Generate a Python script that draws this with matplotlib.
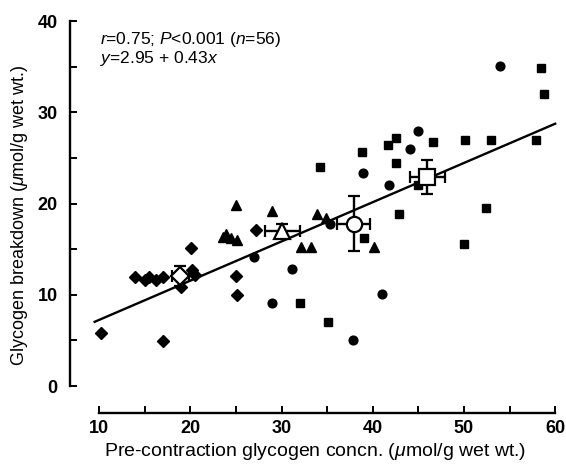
import matplotlib
matplotlib.use("Agg")
import matplotlib.pyplot as plt
import numpy as np

plt.rcParams['font.family'] = ['Liberation Sans', 'DejaVu Sans']
plt.rcParams['mathtext.fontset'] = 'custom'
plt.rcParams['mathtext.rm'] = 'Liberation Sans'
plt.rcParams['mathtext.it'] = 'Liberation Sans:italic'
plt.rcParams['mathtext.bf'] = 'Liberation Sans:bold'

# individual points (x = pre-contraction glycogen, y = breakdown)
diamond_x = [10.2, 17.0, 13.9, 15.0, 15.5, 16.2, 17.0, 19.0, 20.2, 20.5, 20.1, 25.0, 25.1, 27.2]
diamond_y = [5.8, 4.9, 12.0, 11.6, 12.0, 11.6, 12.0, 10.9, 12.7, 12.2, 15.1, 12.1, 10.0, 17.1]

triangle_x = [25.0, 23.9, 23.6, 24.4, 25.1, 29.0, 33.9, 34.9, 32.1, 33.2, 40.1]
triangle_y = [19.8, 16.7, 16.3, 16.2, 16.0, 19.2, 18.9, 18.4, 15.2, 15.2, 15.2]

circle_x = [27.0, 31.1, 29.0, 35.3, 37.8, 41.0, 38.9, 41.8, 44.1, 45.0, 53.9]
circle_y = [14.1, 12.8, 9.1, 17.8, 5.0, 10.1, 23.3, 22.0, 26.0, 27.9, 35.1]

square_x = [32.0, 35.1, 34.2, 39.0, 38.8, 41.7, 42.5, 42.6, 42.9, 45.0, 46.6,
            50.0, 50.1, 52.4, 53.0, 57.9, 58.5, 58.8]
square_y = [9.1, 7.0, 24.0, 16.2, 25.6, 26.4, 27.2, 24.4, 18.8, 22.0, 26.7,
            15.6, 27.0, 19.5, 27.0, 27.0, 34.9, 32.0]

# group means with SE
mean_markers = ['D', '^', 'o', 's']
mean_x = [18.9, 30.1, 37.9, 46.0]
mean_y = [12.1, 17.0, 17.8, 22.9]
mean_xerr = [0.9, 1.9, 1.85, 1.95]
mean_yerr = [1.1, 0.8, 3.0, 1.9]

# regression line
intercept = 2.95
slope = 0.43

fig = plt.figure(figsize=(5.66, 4.68), dpi=100)
ax = fig.add_axes([0.1237, 0.1167, 0.8652, 0.848])

ax.plot(diamond_x, diamond_y, 'D', color='black', markersize=6, zorder=3)
ax.plot(triangle_x, triangle_y, '^', color='black', markersize=6.5, zorder=3)
ax.plot(circle_x, circle_y, 'o', color='black', markersize=6.3, zorder=3)
ax.plot(square_x, square_y, 's', color='black', markersize=6, zorder=3)

lx = np.array([9.5, 60])
ax.plot(lx, intercept + slope * lx, color='black', linewidth=1.7, zorder=2)

sizes = {'D': 9.5, '^': 11, 'o': 11, 's': 11}
for m, x, y, xe, ye in zip(mean_markers, mean_x, mean_y, mean_xerr, mean_yerr):
    ax.errorbar(x, y, xerr=xe, yerr=ye, fmt=m, color='black', ecolor='black',
                markerfacecolor='white', markeredgecolor='black',
                markeredgewidth=1.6, markersize=sizes[m], elinewidth=1.7,
                capsize=4, capthick=1.7, zorder=4)

ax.text(10.1, 38.0, r'$r$=0.75; $P$<0.001 ($n$=56)', fontsize=12.5, va='center')
ax.text(10.1, 35.9, r'$y$=2.95 + 0.43$x$', fontsize=12.5, va='center')

ax.set_xlim(6.8, 60.5)
ax.set_ylim(-3, 40.5)
ax.spines['top'].set_visible(False)
ax.spines['right'].set_visible(False)
ax.spines['left'].set_bounds(0, 40)
ax.spines['bottom'].set_bounds(10, 60)
ax.spines['left'].set_linewidth(1.7)
ax.spines['bottom'].set_linewidth(1.7)

ax.set_xticks([10, 20, 30, 40, 50, 60])
ax.set_xticks([15, 25, 35, 45, 55], minor=True)
ax.set_yticks([0, 10, 20, 30, 40])
ax.set_yticks([5, 15, 25, 35], minor=True)
ax.tick_params(which='both', direction='in', length=5, width=1.4)
ax.tick_params(axis='x', which='major', pad=5)
ax.tick_params(axis='y', which='major', pad=9)
for lab in ax.get_xticklabels() + ax.get_yticklabels():
    lab.set_fontweight('bold')
    lab.set_fontsize(13)

ax.set_xlabel(r'Pre-contraction glycogen concn. ($\mu$mol/g wet wt.)', fontsize=14, labelpad=3)
ax.set_ylabel(r'Glycogen breakdown ($\mu$mol/g wet wt.)', fontsize=13, labelpad=5)

fig.savefig('out.png', dpi=100)
